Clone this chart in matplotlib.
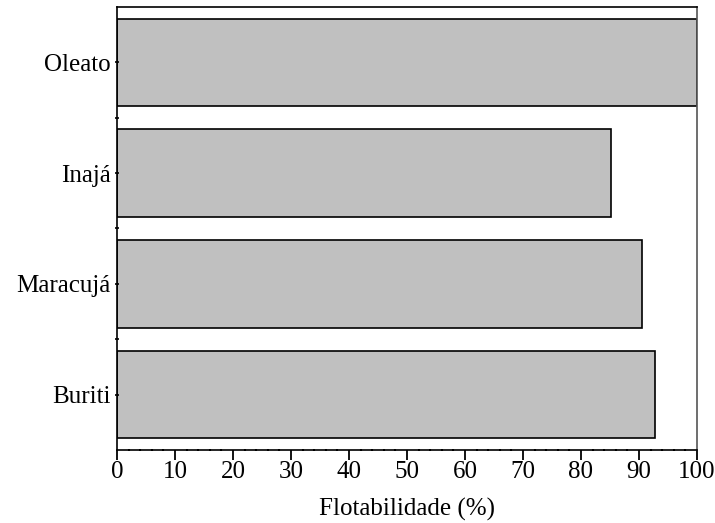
import matplotlib.pyplot as plt
from matplotlib.ticker import MultipleLocator

categorias = ["Oleato", "Inajá", "Maracujá", "Buriti"]
flotabilidade = [100, 85.2, 90.5, 92.8]

plt.rcParams['font.family'] = ['Liberation Serif', 'DejaVu Serif']

fig = plt.figure(figsize=(7.15, 5.23), dpi=100)
ax = fig.add_axes([0.1636, 0.1396, 0.8112, 0.847])

pos = list(range(len(categorias)))
ax.barh(pos, flotabilidade, height=0.79, color="#c0c0c0", edgecolor="k", linewidth=1.2)

ax.set_xlim(0, 100)
ax.set_ylim(3.5, -0.5)
ax.set_yticks(pos)
ax.set_yticklabels(categorias, fontsize=18)
ax.set_yticks([0.5, 1.5, 2.5], minor=True)
ax.xaxis.set_major_locator(MultipleLocator(10))
ax.xaxis.set_minor_locator(MultipleLocator(2))
ax.tick_params(axis="x", which="major", direction="out", length=7, width=1.3, labelsize=18, pad=1)
ax.tick_params(axis="x", which="minor", direction="inout", length=2, width=1.5)
ax.tick_params(axis="y", which="major", direction="inout", length=3, width=1.2, pad=3)
ax.tick_params(axis="y", which="minor", direction="inout", length=3, width=1.2)
ax.set_xlabel("Flotabilidade (%)", fontsize=18, labelpad=11)

for s in ax.spines.values():
    s.set_linewidth(1.2)
ax.spines["right"].set_color("#555555")

fig.savefig("out.png", dpi=100)
